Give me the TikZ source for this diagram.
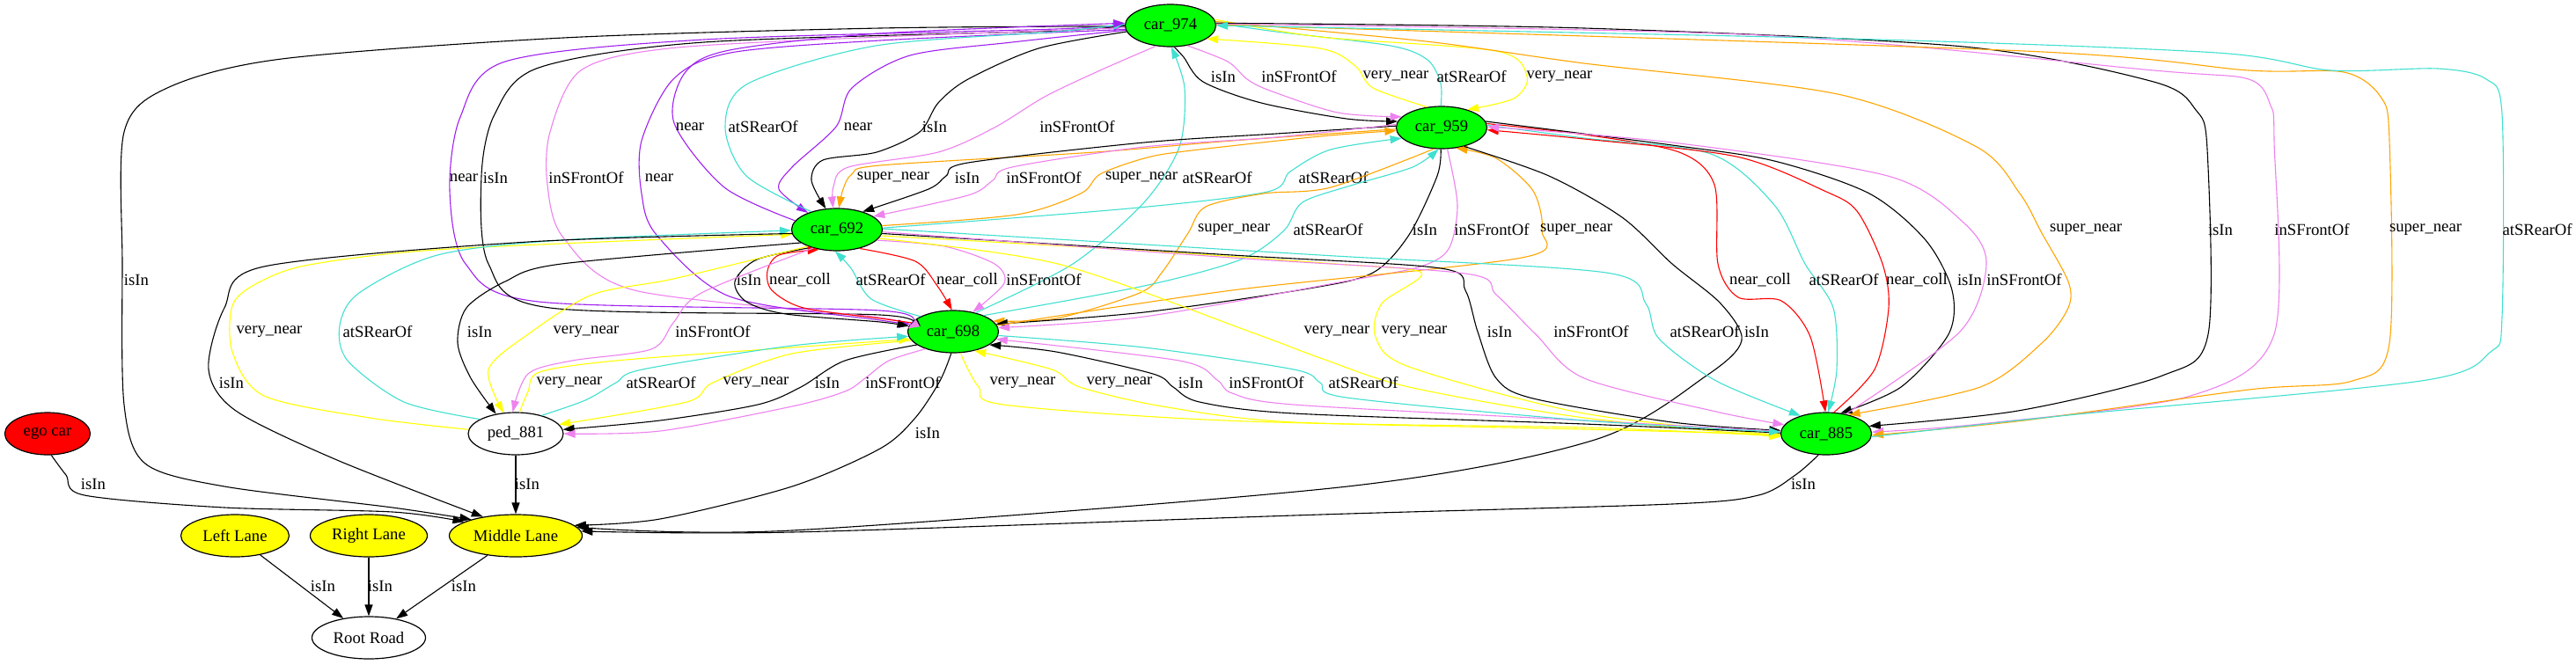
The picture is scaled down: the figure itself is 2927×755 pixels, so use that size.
\documentclass[tikz,border=0pt]{standalone}
\usepackage{fontspec}
\setmainfont{Liberation Serif}
\usetikzlibrary{shapes.geometric,arrows.meta}

\definecolor{gvgreen}{HTML}{00FF00}
\definecolor{gvyellow}{HTML}{FFFF00}
\definecolor{gvred}{HTML}{FF0000}
\definecolor{gvpurple}{HTML}{A020F0}
\definecolor{gvviolet}{HTML}{EE82EE}
\definecolor{gvturq}{HTML}{40E0D0}
\definecolor{gvorange}{HTML}{FFA500}

\tikzset{
    obj/.style={ellipse, draw, line width=1.2pt, minimum height=48pt, inner sep=0pt},
    car/.style={obj, fill=gvgreen, minimum width=103pt},
    lane/.style={obj, fill=gvyellow},
    lbl/.style={inner sep=0pt},
    rel/.style={line width=1.1pt, -{Triangle[length=13pt,width=9pt]}},
    e_in/.style={rel, draw=black},
    e_near/.style={rel, draw=gvpurple},
    e_vnear/.style={rel, draw=gvyellow},
    e_snear/.style={rel, draw=gvorange},
    e_coll/.style={rel, draw=gvred},
    e_front/.style={rel, draw=gvviolet},
    e_rear/.style={rel, draw=gvturq},
}

\begin{document}
\begin{tikzpicture}[x=1pt, y=-1pt, every node/.style={font=\fontsize{18.7}{22}\selectfont}]
    \useasboundingbox[fill=white] (0,0) rectangle (2927,755);

    % cars and pedestrian
    \node[car] (c974) at (1330,29) {car\_974};
    \node[car] (c959) at (1638,145) {car\_959};
    \node[car] (c692) at (951,261) {car\_692};
    \node[car] (c698) at (1083,377) {car\_698};
    \node[car] (c885) at (2075,493) {car\_885};
    \node[obj, minimum width=108pt] (ped881) at (586,493) {ped\_881};
    \node[obj, fill=gvred, minimum width=97pt] (ego) at (54,493) {ego car};

    % lanes and road
    \node[lane, minimum width=123pt] (lleft) at (267,609) {Left Lane};
    \node[lane, minimum width=133pt] (lright) at (419,609) {Right Lane};
    \node[lane, minimum width=151pt] (lmid) at (586,609) {Middle Lane};
    \node[obj, minimum width=129pt] (root) at (419,725) {Root Road};

    % car_974 to the left
    \draw[e_in] plot[smooth] coordinates {(c974.181) (1000,32) (640,43) (320,67) (190,100) (141,150) (139,300) (141,460) (165,527) (255,553) (446,577) (lmid.160)};
    \node[lbl] (lab01) at (155,318) {isIn};
    \draw[e_near] plot[smooth] coordinates {(c698.172) (1000,353) (612,343) (529,300) (511,217) (523,133) (574,70) (800,45) (1200,33) (c974.179)};
    \node[lbl] (lab02) at (527,202) {near};
    \draw[e_in] plot[smooth] coordinates {(c974.180) (1200,35) (800,48) (612,77) (562,130) (547,200) (555,300) (625,350) (1000,358) (c698.174)};
    \node[lbl] (lab03) at (563,202) {isIn};
    \draw[e_front] plot[smooth] coordinates {(c974.183) (1000,42) (760,55) (660,80) (625,150) (622,210) (640,270) (721,330) (1000,361) (c698.176)};
    \node[lbl] (lab04) at (666,202) {inSFrontOf};
    \draw[e_near] plot[smooth] coordinates {(c974.185) (1000,46) (830,60) (765,90) (729,160) (729,220) (746,267) (829,337) (1000,364) (c698.170)};
    \node[lbl] (lab05) at (749,202) {near};

    % car_974 and car_692
    \draw[e_near] plot[smooth] coordinates {(c974.186) (1150,48) (1034,63) (968,100) (950,144) (900,190) (885,215) (c692.150)};
    \node[lbl] (lab06) at (975,144) {near};
    \draw[e_rear] plot[smooth] coordinates {(c692.145) (848,200) (824,144) (850,95) (995,52) (1200,36) (c974.178)};
    \node[lbl] (lab07) at (867,144) {atSRearOf};
    \draw[e_near] plot[smooth] coordinates {(c692.168) (823,213) (766,140) (778,83) (829,57) (1000,38) (c974.177)};
    \node[lbl] (lab08) at (784,144) {near};
    \draw[e_in] plot[smooth] coordinates {(c974.188) (1180,55) (1100,90) (1066,117) (1045,150) (996,173) (935,182) (922,205) (c692.118)};
    \node[lbl] (lab09) at (1062,144) {isIn};
    \draw[e_front] plot[smooth] coordinates {(c974.235) (1250,80) (1187,110) (1130,145) (1066,173) (964,190) (947,212) (c692.100)};
    \node[lbl] (lab10) at (1224,144) {inSFrontOf};

    % car_974 and car_959
    \draw[e_in] plot[smooth] coordinates {(c974.280) (1345,65) (1367,93) (1433,117) (1530,135) (c959.172)};
    \node[lbl] (lab11) at (1390,87) {isIn};
    \draw[e_front] plot[smooth] coordinates {(c974.310) (1395,70) (1417,90) (1443,103) (1520,128) (c959.165)};
    \node[lbl] (lab12) at (1476,87) {inSFrontOf};
    \draw[e_vnear] plot[smooth] coordinates {(c959.125) (1560,100) (1540,75) (1500,55) (c974.340)};
    \node[lbl] (lab13) at (1586,87) {very\_near};
    \draw[e_rear] plot[smooth] coordinates {(c959.92) (1637,95) (1622,68) (1580,52) (1450,36) (c974.3)};
    \node[lbl] (lab14) at (1672,87) {atSRearOf};
    \draw[e_vnear] plot[smooth] coordinates {(c974.8) (1500,42) (1700,58) (1735,87) (1720,112) (c959.35)};
    \node[lbl] (lab15) at (1772,87) {very\_near};
    \draw[e_rear] plot[smooth] coordinates {(c698.40) (1219,300) (1300,230) (1340,167) (1346,100) (c974.272)};
    \node[lbl] (lab16) at (1383,202) {atSRearOf};

    % car_974 and car_885
    \draw[e_snear] plot[smooth] coordinates {(c974.5) (1620,47) (1800,72) (2088,107) (2246,167) (2295,220) (2320,265) (2350,320) (2350,350) (2320,390) (2250,440) (c885.40)};
    \node[lbl] (lab17) at (2370,261) {super\_near};
    \draw[e_in] plot[smooth] coordinates {(c974.3) (1800,32) (2231,53) (2447,93) (2495,125) (2508,170) (2509,380) (2457,427) (2293,467) (c885.10)};
    \node[lbl] (lab18) at (2523,261) {isIn};
    \draw[e_front] plot[smooth] coordinates {(c974.2) (2000,40) (2447,80) (2555,90) (2580,120) (2584,160) (2584,380) (2489,450) (2250,482) (c885.2)};
    \node[lbl] (lab19) at (2627,261) {inSFrontOf};
    \draw[e_snear] plot[smooth] coordinates {(c974.1) (2300,58) (2555,80) (2663,82) (2705,110) (2715,160) (2715,390) (2673,433) (2555,443) (2300,478) (c885.358)};
    \node[lbl] (lab20) at (2756,261) {super\_near};
    \draw[e_rear] plot[smooth] coordinates {(c885.356) (2350,472) (2751,433) (2830,400) (2843,360) (2843,130) (2825,90) (2770,78) (2648,80) (2519,60) (2100,44) (c974.0)};
    \node[lbl] (lab21) at (2883,261) {atSRearOf};

    % car_959 and car_692
    \draw[e_snear] plot[smooth] coordinates {(c959.182) (1400,160) (1244,173) (1000,188) (968,198) (958,215) (c692.85)};
    \node[lbl] (lab22) at (1015,202) {super\_near};
    \draw[e_in] plot[smooth] coordinates {(c959.178) (1450,152) (1300,162) (1100,185) (1075,200) (1055,215) (c692.35)};
    \node[lbl] (lab23) at (1099,202) {isIn};
    \draw[e_front] plot[smooth] coordinates {(c959.176) (1450,156) (1300,167) (1150,190) (1128,205) (1100,222) (c692.20)};
    \node[lbl] (lab24) at (1186,202) {inSFrontOf};
    \draw[e_snear] plot[smooth] coordinates {(c692.5) (1155,244) (1228,220) (1250,198) (1300,180) (1346,172) (1500,155) (c959.184)};
    \node[lbl] (lab25) at (1297,202) {super\_near};
    \draw[e_rear] plot[smooth] coordinates {(c692.2) (1283,237) (1440,218) (1466,195) (1512,170) (c959.195)};
    \node[lbl] (lab26) at (1515,202) {atSRearOf};

    % car_959 and car_698
    \draw[e_snear] plot[smooth] coordinates {(c959.250) (1512,213) (1436,220) (1370,235) (1350,265) (1320,310) (1295,333) (1200,362) (c698.15)};
    \node[lbl] (lab27) at (1402,261) {super\_near};
    \draw[e_rear] plot[smooth] coordinates {(c698.28) (1300,325) (1410,295) (1459,262) (1480,230) (1538,210) (1605,190) (c959.262)};
    \node[lbl] (lab28) at (1509,261) {atSRearOf};
    \draw[e_in] plot[smooth] coordinates {(c959.268) (1633,200) (1601,267) (1560,310) (1487,328) (1300,355) (c698.10)};
    \node[lbl] (lab29) at (1619,261) {isIn};
    \draw[e_front] plot[smooth] coordinates {(c959.285) (1656,233) (1646,283) (1614,303) (1538,318) (1300,360) (c698.5)};
    \node[lbl] (lab30) at (1695,261) {inSFrontOf};
    \draw[e_snear] plot[smooth] coordinates {(c698.8) (1400,330) (1729,293) (1752,262) (1742,217) (1700,180) (c959.305)};
    \node[lbl] (lab31) at (1791,261) {super\_near};

    % car_959 and car_885
    \draw[e_coll] plot[smooth] coordinates {(c959.5) (1800,153) (1908,173) (1948,210) (1952,300) (1975,338) (2024,342) (2057,383) (c885.92)};
    \node[lbl] (lab32) at (2000,318) {near\_coll};
    \draw[e_rear] plot[smooth] coordinates {(c959.3) (1800,157) (1944,175) (2016,233) (2051,300) (2083,350) (2087,420) (c885.85)};
    \node[lbl] (lab33) at (2095,318) {atSRearOf};
    \draw[e_coll] plot[smooth] coordinates {(c885.70) (2130,420) (2146,350) (2139,300) (2110,240) (2073,217) (1973,178) (1800,158) (c959.357)};
    \node[lbl] (lab34) at (2178,318) {near\_coll};
    \draw[e_in] plot[smooth] coordinates {(c959.8) (1900,165) (2016,183) (2124,220) (2188,273) (2218,330) (2214,380) (2160,440) (c885.55)};
    \node[lbl] (lab35) at (2238,318) {isIn};
    \draw[e_front] plot[smooth] coordinates {(c885.45) (2227,377) (2257,300) (2231,253) (2145,200) (1900,162) (c959.1)};
    \node[lbl] (lab36) at (2300,318) {inSFrontOf};
    \draw[e_in] plot[smooth] coordinates {(c959.320) (1760,200) (1843,247) (1900,300) (1955,345) (1979,387) (1939,427) (1812,500) (1531,553) (900,603) (lmid.8)};
    \node[lbl] (lab37) at (1996,377) {isIn};

    % car_692 and car_698
    \draw[e_in] plot[smooth] coordinates {(c692.215) (860,295) (835,320) (848,343) (893,357) (1000,366) (c698.173)};
    \node[lbl] (lab38) at (851,318) {isIn};
    \draw[e_coll] plot[smooth] coordinates {(c698.168) (1000,362) (913,350) (877,330) (872,308) (885,290) (c692.228)};
    \node[lbl] (lab39) at (909,318) {near\_coll};
    \draw[e_rear] plot[smooth] coordinates {(c698.155) (990,340) (967,305) (c692.265)};
    \node[lbl] (lab40) at (1012,318) {atSRearOf};
    \draw[e_coll] plot[smooth] coordinates {(c692.320) (1040,297) (1065,325) (c698.93)};
    \node[lbl] (lab41) at (1099,318) {near\_coll};
    \draw[e_front] plot[smooth] coordinates {(c692.345) (1073,280) (1130,300) (1141,322) (c698.45)};
    \node[lbl] (lab42) at (1186,318) {inSFrontOf};

    % car_692 and ped_881
    \draw[e_vnear] plot[smooth] coordinates {(ped881.175) (420,475) (300,450) (264,400) (265,345) (300,318) (357,300) (510,283) (c692.186)};
    \node[lbl] (lab43) at (306,377) {very\_near};
    \draw[e_rear] plot[smooth] coordinates {(ped881.158) (459,457) (395,410) (386,370) (408,333) (497,290) (638,273) (c692.181)};
    \node[lbl] (lab44) at (429,377) {atSRearOf};
    \draw[e_in] plot[smooth] coordinates {(c692.200) (638,300) (574,320) (530,350) (520,390) (535,430) (ped881.135)};
    \node[lbl] (lab45) at (545,377) {isIn};
    \draw[e_vnear] plot[smooth] coordinates {(c692.210) (765,317) (673,335) (600,380) (555,420) (ped881.120)};
    \node[lbl] (lab46) at (666,377) {very\_near};
    \draw[e_front] plot[smooth] coordinates {(c692.218) (797,333) (765,367) (740,397) (650,410) (600,425) (ped881.98)};
    \node[lbl] (lab47) at (810,377) {inSFrontOf};

    % car_692 and car_885
    \draw[e_vnear] plot[smooth] coordinates {(c692.348) (1202,300) (1420,377) (1503,408) (1601,440) (1800,475) (c885.184)};
    \node[lbl] (lab48) at (1519,377) {very\_near};
    \draw[e_vnear] plot[smooth] coordinates {(c692.352) (1300,285) (1517,300) (1615,310) (1570,345) (1563,383) (1601,417) (1800,470) (c885.182)};
    \node[lbl] (lab49) at (1607,377) {very\_near};
    \draw[e_in] plot[smooth] coordinates {(c692.355) (1400,290) (1637,305) (1665,330) (1679,377) (1700,430) (1742,453) (1900,480) (c885.176)};
    \node[lbl] (lab50) at (1704,377) {isIn};
    \draw[e_front] plot[smooth] coordinates {(c692.357) (1400,293) (1665,311) (1700,335) (1745,380) (1800,430) (1950,468) (c885.168)};
    \node[lbl] (lab51) at (1808,377) {inSFrontOf};
    \draw[e_rear] plot[smooth] coordinates {(c692.1) (1500,290) (1825,310) (1870,345) (1885,385) (1950,433) (c885.145)};
    \node[lbl] (lab52) at (1937,377) {atSRearOf};
    \draw[e_in] plot[smooth] coordinates {(c692.185) (600,275) (300,303) (255,350) (237,420) (268,467) (383,523) (lmid.150)};
    \node[lbl] (lab53) at (263,435) {isIn};

    % car_698 and ped_881
    \draw[e_vnear] plot[smooth] coordinates {(ped881.80) (600,445) (613,423) (700,410) (900,395) (c698.190)};
    \node[lbl] (lab54) at (647,435) {very\_near};
    \draw[e_rear] plot[smooth] coordinates {(ped881.35) (665,455) (700,435) (730,420) (900,393) (c698.186)};
    \node[lbl] (lab55) at (751,435) {atSRearOf};
    \draw[e_vnear] plot[smooth] coordinates {(c698.192) (900,402) (810,435) (780,457) (ped881.12)};
    \node[lbl] (lab56) at (859,435) {very\_near};
    \draw[e_in] plot[smooth] coordinates {(c698.200) (960,410) (910,440) (861,460) (750,478) (ped881.5)};
    \node[lbl] (lab57) at (940,435) {isIn};
    \draw[e_front] plot[smooth] coordinates {(c698.212) (1010,410) (983,430) (960,445) (900,462) (750,490) (ped881.0)};
    \node[lbl] (lab58) at (1026,435) {inSFrontOf};

    % car_698 and car_885
    \draw[e_vnear] plot[smooth] coordinates {(c698.290) (1095,410) (1112,440) (1140,460) (1391,478) (1800,488) (c885.181)};
    \node[lbl] (lab59) at (1162,435) {very\_near};
    \draw[e_vnear] plot[smooth] coordinates {(c885.183) (1800,486) (1470,480) (1321,462) (1227,440) (1195,420) (c698.318)};
    \node[lbl] (lab60) at (1272,435) {very\_near};
    \draw[e_in] plot[smooth] coordinates {(c885.179) (1800,482) (1470,470) (1363,457) (1333,440) (1310,425) (1200,400) (c698.340)};
    \node[lbl] (lab61) at (1353,435) {isIn};
    \draw[e_front] plot[smooth] coordinates {(c885.177) (1800,478) (1470,460) (1400,447) (1383,432) (1340,410) (c698.350)};
    \node[lbl] (lab62) at (1439,435) {inSFrontOf};
    \draw[e_rear] plot[smooth] coordinates {(c698.355) (1300,395) (1470,420) (1500,435) (1530,452) (1800,478) (c885.178)};
    \node[lbl] (lab63) at (1549,435) {atSRearOf};

    % into the lanes
    \draw[e_in] plot[smooth] coordinates {(c698.265) (1068,433) (1040,475) (1000,510) (900,553) (750,590) (lmid.10)};
    \node[lbl] (lab64) at (1054,492) {isIn};
    \draw[e_in] plot[smooth] coordinates {(ego.280) (75,540) (96,563) (255,577) (446,582) (lmid.165)};
    \node[lbl] (lab65) at (106,550) {isIn};
    \draw[e_in] (ped881) -- (lmid);
    \node[lbl] (lab66) at (599,550) {isIn};
    \draw[e_in] plot[smooth] coordinates {(c885.250) (2040,540) (1998,563) (1900,573) (1500,585) (900,605) (lmid.4)};
    \node[lbl] (lab67) at (2049,550) {isIn};

    % lanes to road
    \draw[e_in] (lleft) -- (root);
    \node[lbl] (lab68) at (367,666) {isIn};
    \draw[e_in] (lright) -- (root);
    \node[lbl] (lab69) at (432,666) {isIn};
    \draw[e_in] (lmid) -- (root);
    \node[lbl] (lab70) at (527,666) {isIn};
\end{tikzpicture}
\end{document}
